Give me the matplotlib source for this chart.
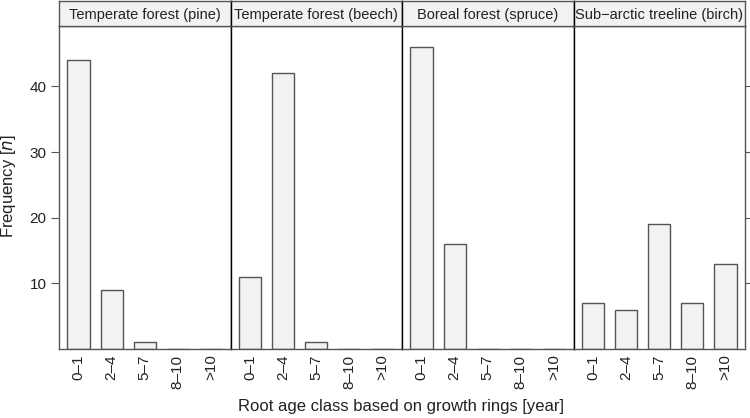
import numpy as np
import matplotlib.pyplot as plt

plt.rcParams['font.family'] = ['Liberation Sans', 'DejaVu Sans']

panels = ['Temperate forest (pine)', 'Temperate forest (beech)',
          'Boreal forest (spruce)', 'Sub\u2212arctic treeline (birch)']
age_classes = ['0\u20131', '2\u20134', '5\u20137', '8\u201310', '>10']
pine = [44, 9, 1, 0, 0]
beech = [11, 42, 1, 0, 0]
spruce = [46, 16, 0, 0, 0]
birch = [7, 6, 19, 7, 13]
counts = [pine, beech, spruce, birch]

W, H = 750, 418
fig = plt.figure(figsize=(W / 100, H / 100), dpi=100)

left, right = 59, 745
top_strip, strip_bot, bottom = 0.5, 26, 349
pw = (right - left) / 4
x = np.arange(1, 6)
grey = '#555555'

for i, (name, vals) in enumerate(zip(panels, counts)):
    x0 = left + i * pw
    ax = fig.add_axes([x0 / W, (H - bottom) / H, pw / W, (bottom - strip_bot) / H])
    ax.bar(x, vals, width=0.67, color='#f2f2f2', edgecolor='#555555', linewidth=1.0)
    ax.set_xlim(0.41, 5.59)
    ax.set_ylim(0, 49.2)
    ax.set_xticks(x)
    ax.set_xticklabels(age_classes, rotation=90, fontsize=11, color='#222222')
    ax.tick_params(axis='x', length=0, pad=4)
    ax.set_yticks([10, 20, 30, 40])
    if i == 0:
        ax.tick_params(axis='y', left=True, right=False, labelleft=True,
                       length=6, color=grey, labelsize=11, labelcolor='#222222', pad=3)
    elif i == 3:
        ax.tick_params(axis='y', left=False, right=True, labelleft=False,
                       labelright=False, length=6, color=grey)
    else:
        ax.tick_params(axis='y', left=False, right=False, labelleft=False)
    for s in ax.spines.values():
        s.set_linewidth(1.0)
    ax.spines['bottom'].set_color(grey)
    ax.spines['top'].set_color(grey)
    ax.spines['left'].set_color(grey if i == 0 else 'black')
    ax.spines['right'].set_color(grey if i == 3 else 'black')

    sax = fig.add_axes([x0 / W, (H - strip_bot) / H, pw / W, (strip_bot - top_strip) / H])
    sax.set_facecolor('#f2f2f2')
    sax.set_xticks([])
    sax.set_yticks([])
    for s in sax.spines.values():
        s.set_linewidth(1.0)
        s.set_color(grey)
    sax.spines['left'].set_color(grey if i == 0 else 'black')
    sax.spines['right'].set_color(grey if i == 3 else 'black')
    sax.text(0.5, 0.45, name, ha='center', va='center', fontsize=10.5,
             transform=sax.transAxes, color='#222222')

fig.text(9 / W, 1 - 186 / H, 'Frequency [$\\it{n}$]', rotation=90,
         ha='center', va='center', fontsize=12, color='#222222')
fig.text(401 / W, 1 - 406 / H, 'Root age class based on growth rings [year]',
         ha='center', va='center', fontsize=12, color='#222222')

fig.savefig('out.png', dpi=100)
